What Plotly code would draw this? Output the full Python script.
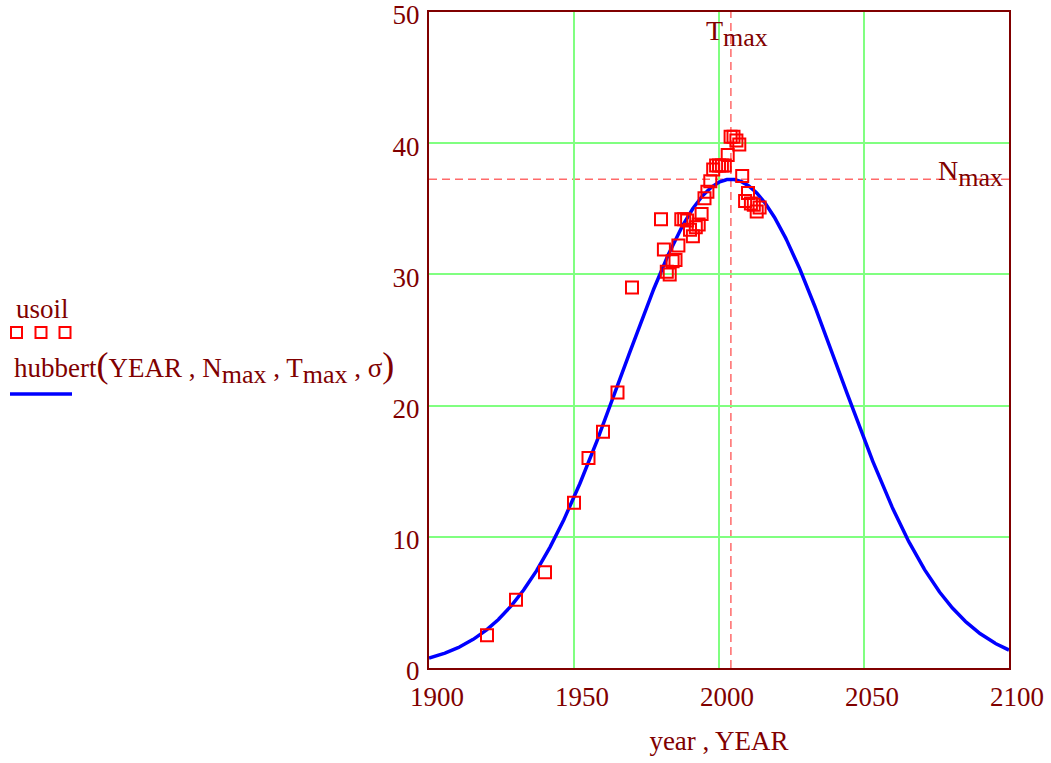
import numpy as np
import plotly.graph_objects as go

# ---- data ----
usoil_year = [1920, 1930, 1940, 1950, 1955, 1960, 1965, 1970,
              1980, 1981, 1982, 1983, 1984, 1985, 1986, 1987, 1988, 1989,
              1990, 1991, 1992, 1993, 1994, 1995, 1996, 1997, 1998, 1999,
              2000, 2001, 2002, 2003, 2004, 2005, 2006, 2007, 2008, 2009,
              2010, 2011, 2012, 2013, 2014]
usoil_value = [2.5, 5.2, 7.3, 12.6, 16.0, 18.0, 21.0, 29.0,
               34.2, 31.9, 30.2, 30.0, 31.0, 31.1, 32.2, 34.2, 34.2, 34.1,
               33.4, 32.9, 33.6, 33.8, 34.6, 35.8, 36.3, 37.1, 38.0, 38.3,
               38.3, 38.3, 38.3, 39.1, 40.5, 40.5, 40.2, 39.9, 37.5, 35.6,
               36.2, 35.4, 35.3, 34.8, 35.1]

# Hubbert model parameters
N_max = 37.25
T_max = 2004.1
sigma = 37.3

x_ticks = [1900, 1950, 2000, 2050, 2100]
y_ticks = [0, 10, 20, 30, 40, 50]

YEAR = np.arange(1900, 2100.25, 0.25)
hubbert = N_max * np.exp(-((YEAR - T_max) ** 2) / (2 * sigma ** 2))

MAROON = "#800000"
FONT = "Liberation Serif"
W, H = 1051, 763
L, R, T, B = 429, 42, 12, 95
PW, PH = W - L - R, H - T - B


def px(xp):
    return (xp - L) / PW


def py(yp):
    return (H - B - yp) / PH


fig = go.Figure()
fig.add_trace(go.Scatter(x=YEAR, y=hubbert, mode="lines",
                         line=dict(color="#0000ff", width=3.5),
                         showlegend=False, hoverinfo="skip"))
fig.add_trace(go.Scatter(x=usoil_year, y=usoil_value, mode="markers",
                         marker=dict(symbol="square-open", size=12,
                                     color="#ff0000", line=dict(width=2, color="#ff0000")),
                         showlegend=False))

dash_col = "rgba(255,90,90,0.9)"
fig.add_shape(type="line", xref="x", yref="y", x0=T_max, x1=T_max, y0=0, y1=50,
              line=dict(color=dash_col, width=1.5, dash="8px,5px"), layer="below")
fig.add_shape(type="line", xref="x", yref="y", x0=1900, x1=2100, y0=N_max, y1=N_max,
              line=dict(color=dash_col, width=1.5, dash="8px,5px"), layer="below")

SUB = '<sub><span style="font-size:26px">max</span></sub>'
fig.add_annotation(x=T_max, y=50, xref="x", yref="y", text="T" + SUB,
                   showarrow=False, xanchor="left", yanchor="top", xshift=-27, yshift=-1,
                   font=dict(family=FONT, size=28, color=MAROON))
fig.add_annotation(x=2100, y=N_max, xref="x", yref="y", text="N" + SUB,
                   showarrow=False, xanchor="right", yanchor="middle", xshift=-4, yshift=6,
                   font=dict(family=FONT, size=28, color=MAROON))

# legend (drawn manually, Mathcad style)
fig.add_annotation(x=px(14), y=py(309), xref="paper", yref="paper", text="usoil",
                   showarrow=False, xanchor="left", yanchor="middle",
                   font=dict(family=FONT, size=27, color=MAROON))
PAR_L = '<span style="font-size:36px">(</span>'
PAR_R = '<span style="font-size:36px">)</span>'
leg2 = "hubbert" + PAR_L + "YEAR , N" + SUB + " , T" + SUB + " , \u03c3" + PAR_R
fig.add_annotation(x=px(12), y=py(367), xref="paper", yref="paper", text=leg2,
                   showarrow=False, xanchor="left", yanchor="middle",
                   font=dict(family=FONT, size=27, color=MAROON))
for cx in (16.5, 41, 65):
    fig.add_shape(type="rect", xref="paper", yref="paper",
                  x0=px(cx - 5.5), x1=px(cx + 5.5),
                  y0=py(338), y1=py(327),
                  line=dict(color="#ff0000", width=2))
fig.add_shape(type="line", xref="paper", yref="paper",
              x0=px(10), x1=px(72), y0=py(394), y1=py(394),
              line=dict(color="#0000ff", width=3.5))

axis_common = dict(showline=True, mirror=True, linecolor=MAROON, linewidth=2,
                   showgrid=True, gridcolor="#80ff80", gridwidth=1.5,
                   zeroline=False, ticks="", automargin=False,
                   ticklabeloverflow="allow",
                   tickfont=dict(family=FONT, size=27, color=MAROON))
fig.update_xaxes(range=[1900, 2100], tickvals=x_ticks, ticklabelshift=8,
                 ticklabelstandoff=4, **axis_common,
                 title=dict(text="year , YEAR", font=dict(family=FONT, size=27, color=MAROON),
                            standoff=20))
fig.update_yaxes(range=[0, 50], tickvals=y_ticks, ticklabelstandoff=2,
                 ticklabelshift=3, **axis_common)

fig.update_layout(width=W, height=H, autosize=False,
                  margin=dict(l=L, r=R, t=T, b=B),
                  plot_bgcolor="white", paper_bgcolor="white",
                  font=dict(family=FONT, color=MAROON))

fig.write_html("out.html")
